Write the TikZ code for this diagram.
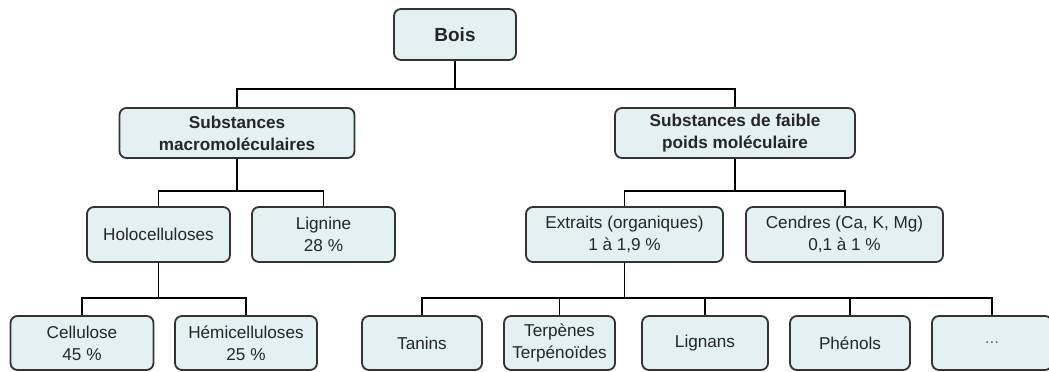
\documentclass[tikz,border=0pt]{standalone}
\usepackage{fontspec}
\setmainfont{Liberation Sans}

\definecolor{boxfill}{HTML}{E3F1F3}
\definecolor{boxline}{HTML}{333333}

\begin{document}
\begin{tikzpicture}[x=0.025cm,y=-0.025cm,
  box/.style={draw=boxline, fill=boxfill, rounded corners=5pt, line width=1.3pt,
    align=center, inner sep=0pt, text=black!85, font=\fontsize{12.2}{15.5}\selectfont},
  titlebox/.style={box, font=\bfseries\fontsize{12.2}{15.5}\selectfont},
  link/.style={line width=1.4pt, black}]

% Fix the page size
\useasboundingbox (0,0) rectangle (1049,372);

% Top
\node[titlebox, font=\bfseries\fontsize{13.5}{16}\selectfont, minimum width=3.05cm, minimum height=1.275cm] (bois) at (455,34.5) {Bois};

% Second level
\node[titlebox, minimum width=5.875cm, minimum height=1.25cm] (macro) at (237,133) {Substances\\macromoléculaires};
\node[titlebox, minimum width=6cm, minimum height=1.25cm] (faible) at (735,133) {Substances de faible\\poids moléculaire};

% Third level
\node[box, minimum width=3.575cm, minimum height=1.375cm] (holo) at (158.5,234.5) {Holocelluloses};
\node[box, minimum width=3.575cm, minimum height=1.375cm] (lignine) at (323.5,234.5) {Lignine\\28 \%};
\node[box, minimum width=4.925cm, minimum height=1.375cm] (extraits) at (624.5,234.5) {Extraits (organiques)\\1 à 1,9 \%};
\node[box, minimum width=4.925cm, minimum height=1.375cm] (cendres) at (844.5,234.5) {Cendres (Ca, K, Mg)\\0,1 à 1 \%};

% Bottom level
\node[box, minimum width=3.575cm, minimum height=1.35cm] (cellulose) at (82,343) {Cellulose\\45 \%};
\node[box, minimum width=3.55cm, minimum height=1.35cm] (hemi) at (246,343) {Hémicelluloses\\25 \%};
\node[box, minimum width=3cm, minimum height=1.35cm] (tanins) at (422,343) {Tanins};
\node[box, minimum width=2.775cm, minimum height=1.35cm] (terpenes) at (559.5,343) {Terpènes\\Terpénoïdes};
\node[box, minimum width=3.15cm, minimum height=1.35cm] (lignans) at (705,343) {Lignans};
\node[box, minimum width=3cm, minimum height=1.35cm] (phenols) at (850,343) {Phénols};
\node[box, minimum width=3cm, minimum height=1.35cm] (autres) at (992,343) {\textcolor{black!55}{...}};

% Connectors
\foreach \child in {macro,faible}
  \draw[link] (bois.south) -- ++(0,28) -| (\child.north);
\foreach \child in {holo,lignine}
  \draw[link] (macro.south) -- ++(0,32) -| (\child.north);
\foreach \child in {extraits,cendres}
  \draw[link] (faible.south) -- ++(0,32) -| (\child.north);
\foreach \child in {cellulose,hemi}
  \draw[link] (holo.south) -- ++(0,35) -| (\child.north);
\foreach \child in {tanins,terpenes,lignans,phenols,autres}
  \draw[link] (extraits.south) -- ++(0,35) -| (\child.north);

\end{tikzpicture}
\end{document}
